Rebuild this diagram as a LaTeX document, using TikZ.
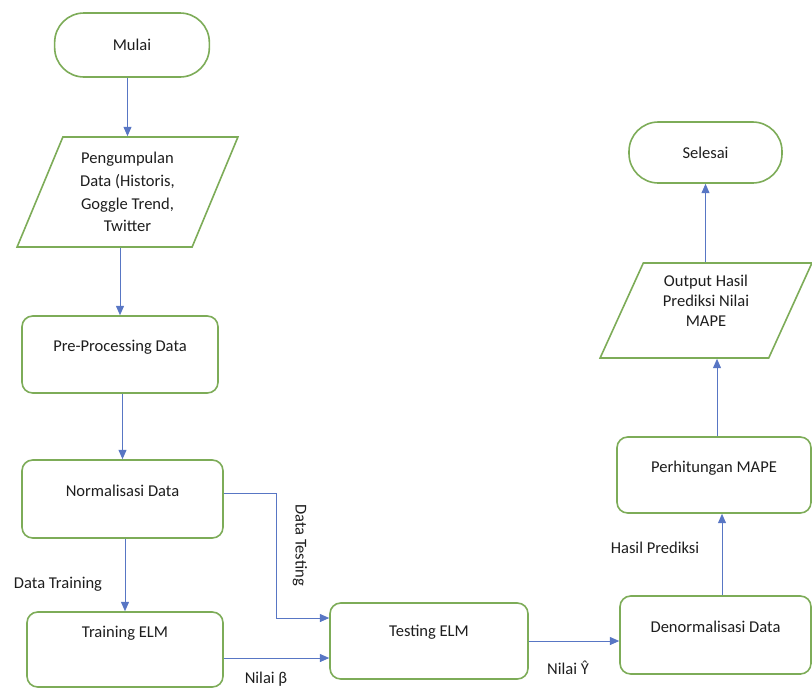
\documentclass[tikz,border=0pt]{standalone}
\usepackage{fontspec}
\setmainfont{Carlito}
\usepackage{tikz}
\usetikzlibrary{shapes.geometric,arrows.meta,calc}
\definecolor{boxgreen}{RGB}{125,172,88}
\definecolor{flowblue}{RGB}{88,118,196}
\definecolor{txtgray}{RGB}{30,30,30}
\tikzstyle{process}=[draw=boxgreen, line width=1.2pt, rounded corners=8pt, fill=white, text=txtgray, align=center]
\tikzstyle{terminal}=[process, rounded corners=22pt]
\tikzstyle{io}=[draw=boxgreen, line width=1.2pt, fill=white, text=txtgray, align=center, trapezium, trapezium left angle=67.5, trapezium right angle=112.5, trapezium stretches=true]
\tikzstyle{flow}=[draw=flowblue, line width=0.7pt, -{Triangle[length=7pt,width=6pt]}]
\tikzstyle{note}=[text=txtgray, inner sep=1pt]

\begin{document}
\begin{tikzpicture}[x=0.75pt, y=-0.75pt, font=\fontsize{12.4}{17}\selectfont]
		\useasboundingbox (0,0) rectangle (812,689);
		% left column
		\node[terminal, minimum width=116pt, minimum height=48pt] (mulai) at (132,45) {Mulai};
		\node[io, minimum width=165.75pt, minimum height=82.5pt] (peng) at (127.5,192) {Pengumpulan\\Data (Historis,\\Goggle Trend,\\Twitter};
		\node[process, minimum width=147pt, minimum height=57.75pt, text depth=13pt] (pre) at (120,354.5) {Pre-Processing Data};
		\node[process, minimum width=150.75pt, minimum height=58.5pt, text depth=13pt] (norm) at (122.5,499) {Normalisasi Data};
		\node[process, minimum width=147pt, minimum height=56.25pt, text depth=27pt] (train) at (125,649.5) {Training ELM};
		% middle and right column
		\node[process, minimum width=148.5pt, minimum height=57pt, text depth=16pt] (test) at (429,641) {Testing ELM};
		\node[process, minimum width=143.25pt, minimum height=58.5pt, text depth=13pt] (denorm) at (715.5,635) {Denormalisasi Data};
		\node[process, minimum width=145.5pt, minimum height=57pt, text depth=13pt] (perh) at (714,475) {Perhitungan MAPE};
		\node[io, minimum width=159pt, minimum height=71.25pt, font=\fontsize{12.4}{15}\selectfont, text depth=14pt] (output) at (706,310.5) {Output Hasil\\Prediksi Nilai\\MAPE};
		\node[terminal, minimum width=114.75pt, minimum height=45.75pt] (selesai) at (705.5,152.5) {Selesai};
		% connectors
		\draw[flow] (mulai.south -| peng.north) -- (peng.north);
		\draw[flow] (peng.south -| pre.north) -- (pre.north);
		\draw[flow] (pre.south -| norm.north) -- (norm.north);
		\draw[flow] (norm.south -| train.north) -- (train.north);
		\coordinate (tin1) at ($(test.west)+(0,-23)$);
		\coordinate (tin2) at ($(test.west)+(0,17)$);
		\draw[flow] ($(norm.east)+(0,-6)$) -- ++(53,0) |- (tin1);
		\draw[flow] (tin2 -| train.east) -- (tin2);
		\draw[flow] (test.east) -- (test.east -| denorm.west);
		\coordinate (up1) at ($(denorm.north)+(6.5,0)$);
		\draw[flow] (up1) -- (up1 |- perh.south);
		\coordinate (up2) at ($(perh.north)+(3,0)$);
		\draw[flow] (up2) -- (up2 |- output.south);
		\draw[flow] (output.north -| selesai.south) -- (selesai.south);
		% connector labels
		\node[note] (lbltrain) at (58,584) {Data Training};
		\node[note, rotate=-90] (lbltest) at (300,545) {Data Testing};
		\node[note] (lblbeta) at (266,679) {Nilai β};
		\node[note] (lblyhat) at (568,668) {Nilai Ŷ};
		\node[note] (lblhasil) at (655,548) {Hasil Prediksi};
	\end{tikzpicture}
\end{document}
